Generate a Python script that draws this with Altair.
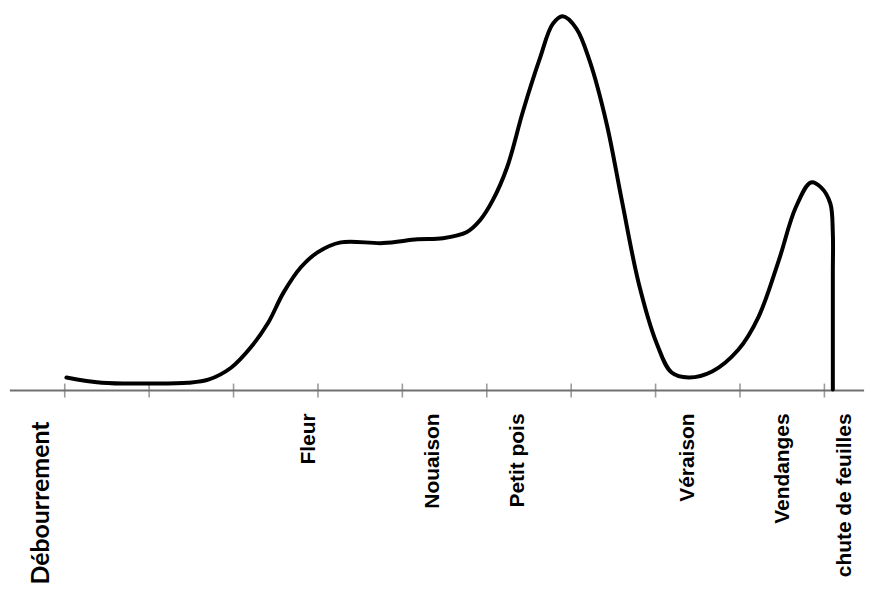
import altair as alt
import pandas as pd

# Curve (x in stage units, tick every 1 unit; y relative level, peak = 100)
curve_x = [0.02, 0.44, 1.03, 1.46, 1.70, 1.97, 2.21, 2.41, 2.59, 2.80, 3.00, 3.27, 3.77,
           4.18, 4.48, 4.76, 4.92, 5.07, 5.24, 5.43, 5.63, 5.78, 5.90, 6.06, 6.22, 6.42,
           6.60, 6.80, 7.01, 7.19, 7.39, 7.67, 7.98, 8.22, 8.46, 8.66, 8.84, 8.96, 9.07,
           9.10, 9.10, 9.10]
curve_y = [3.5, 2.1, 1.9, 2.1, 2.9, 6.1, 11.7, 18.1, 26.1, 33.0, 37.0, 39.6, 39.4,
           40.4, 40.7, 42.3, 45.5, 50.8, 59.6, 74.7, 88.8, 97.9, 100.0, 96.8, 88.0, 71.3,
           50.8, 28.7, 12.8, 4.8, 3.5, 5.1, 10.9, 19.7, 34.8, 48.9, 55.6, 54.3, 50.0,
           42.0, 31.4, 0.3]

tick_x = [0, 1, 2, 3, 4, 5, 6, 7, 8, 9]

first_label = ["Débourrement"]
first_label_x = [-0.28]
stage_labels = ["Fleur", "Nouaison", "Petit pois", "Véraison",
                "Vendanges", "chute de feuilles"]
stage_x = [2.90, 4.36, 5.37, 7.38, 8.51, 9.24]

axis_x = [-0.65, 9.47]

X_DOMAIN = [-0.6486, 9.4693]
Y_DOMAIN = [-50.27, 101.86]

curve_df = pd.DataFrame({"x": curve_x, "y": curve_y, "i": list(range(len(curve_x)))})
tick_df = pd.DataFrame({"x": tick_x, "y": [0] * len(tick_x)})
label_df = pd.DataFrame({"x": stage_x, "label": stage_labels})
first_df = pd.DataFrame({"x": first_label_x, "label": first_label})
axis_df = pd.DataFrame({"x": [axis_x[0]], "x2": [axis_x[1]], "y": [0]})

xs = alt.Scale(domain=X_DOMAIN, nice=False, zero=False)
ys = alt.Scale(domain=Y_DOMAIN, nice=False, zero=False)

axis_line = alt.Chart(axis_df).mark_rule(color="#707070", strokeWidth=2).encode(
    x=alt.X("x:Q", scale=xs, axis=None),
    x2="x2:Q",
    y=alt.Y("y:Q", scale=ys, axis=None),
)

ticks = alt.Chart(tick_df).mark_tick(orient="vertical", size=14, thickness=1.6, color="#707070").encode(
    x=alt.X("x:Q", scale=xs, axis=None),
    y=alt.Y("y:Q", scale=ys, axis=None),
)

line = alt.Chart(curve_df).mark_line(
    color="black", strokeWidth=4, interpolate="catmull-rom", strokeCap="round", strokeJoin="round"
).encode(
    x=alt.X("x:Q", scale=xs, axis=None),
    y=alt.Y("y:Q", scale=ys, axis=None),
    order="i:Q",
)

labels = alt.Chart(label_df).mark_text(
    angle=270, align="right", baseline="middle", font="Liberation Sans",
    fontWeight="bold", fontSize=21, color="black",
).encode(
    x=alt.X("x:Q", scale=xs, axis=None),
    y=alt.value(406),
    text="label:N",
)

first = alt.Chart(first_df).mark_text(
    angle=270, align="right", baseline="middle", font="Lato",
    fontWeight="bold", fontSize=25, color="black",
).encode(
    x=alt.X("x:Q", scale=xs, axis=None),
    y=alt.value(414),
    text="label:N",
)

chart = alt.layer(axis_line, ticks, line, labels, first).properties(
    width=858, height=572, padding=0
).configure_view(stroke=None)

chart.save("out.html", embed_options={"renderer": "svg", "actions": False})
